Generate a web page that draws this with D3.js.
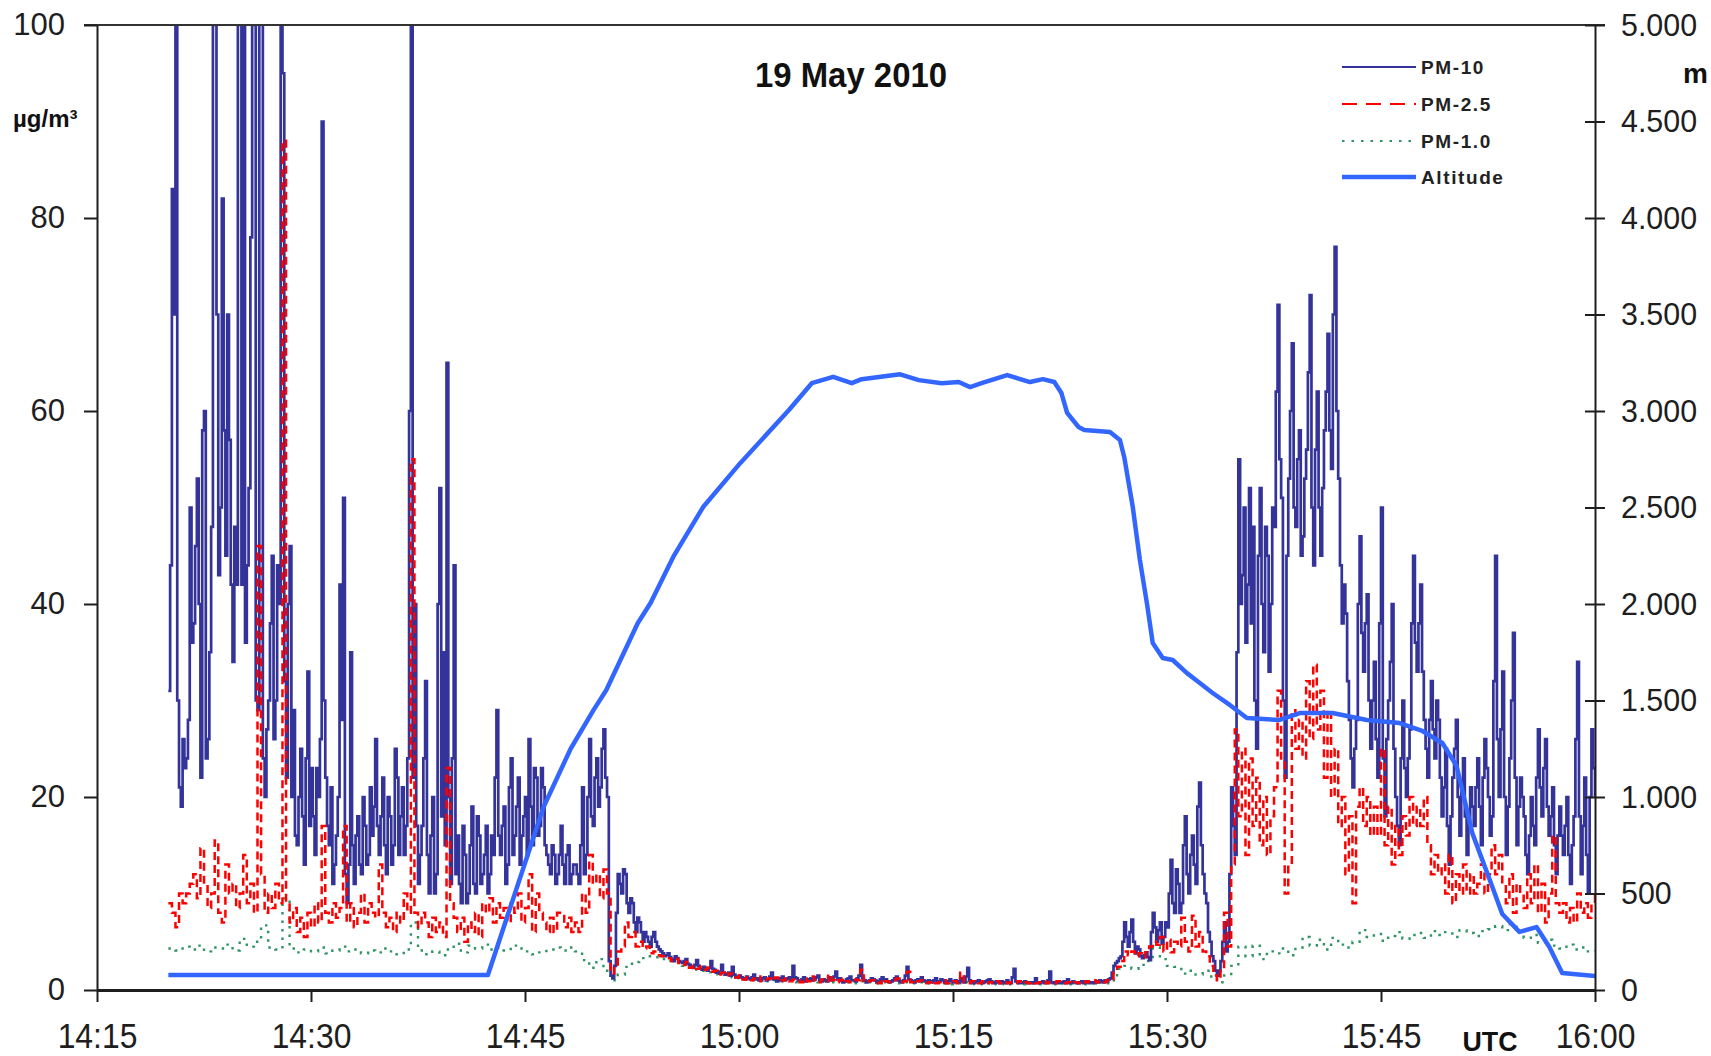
<!DOCTYPE html>
<html>
<head>
<meta charset="utf-8">
<script src="https://cdn.jsdelivr.net/npm/d3@7"></script>
<style>
  html, body { margin: 0; padding: 0; background: #fff; }
  svg { display: block; font-family: "Liberation Sans", Arial, sans-serif; }
</style>
</head>
<body>
<svg id="chart" width="1711" height="1056"></svg>
<script>
// ---- Chart data ------------------------------------------------------------
const chartTitle = "19 May 2010";
const seriesNames = ["PM-10", "PM-2.5", "PM-1.0", "Altitude"];

// x axis: minutes after 14:15 UTC
const xTickMinutes = [0, 15, 30, 45, 60, 75, 90, 105];
const xTickLabels = ["14:15", "14:30", "14:45", "15:00", "15:15", "15:30", "15:45", "16:00"];
const leftTicks = [0, 20, 40, 60, 80, 100];
const rightTicks = [0, 500, 1000, 1500, 2000, 2500, 3000, 3500, 4000, 4500, 5000];

// all particle channels start at 14:20
const pmStartMinute = 5;

// PM-10: one sample every 7.5 s
const pm10StepMinutes = 0.125;
const pm10 = [
  31, 44, 83, 70, 120, 30, 21, 19, 26, 23, 24, 28, 50, 36, 38, 46, 53, 40, 22, 58, 60, 24, 26, 35, 48, 100, 130, 70, 43, 50, 82, 58, 45, 70, 57, 42, 34, 48, 42, 100,
  115, 42, 105, 36, 44, 52, 78, 100, 130, 30, 29, 110, 140, 24, 20, 27, 30, 38, 45, 26, 30, 44, 40, 100, 95, 32, 22, 40, 46, 20, 29, 16, 15, 20, 25, 18, 13, 24, 33, 17,
  23, 18, 14, 23, 20, 26, 90, 30, 22, 17, 15, 21, 11, 13, 16, 20, 42, 28, 51, 12, 9, 13, 35, 15, 11, 16, 18, 13, 12, 20, 17, 13, 14, 21, 16, 19, 26, 17, 14, 18,
  22, 15, 12, 20, 18, 13, 15, 25, 22, 14, 18, 21, 14, 17, 24, 60, 110, 22, 40, 17, 11, 14, 17, 24, 32, 14, 10, 16, 20, 10, 12, 40, 52, 18, 35, 15, 65, 20, 11, 24,
  44, 12, 16, 11, 9, 17, 14, 9, 10, 15, 19, 11, 10, 18, 16, 11, 12, 14, 17, 10, 12, 16, 14, 22, 29, 16, 14, 17, 19, 11, 13, 21, 24, 14, 16, 19, 22, 13, 16, 18,
  20, 14, 26, 19, 15, 23, 22, 16, 17, 23, 21, 15, 14, 13, 12, 15, 14, 11, 12, 14, 17, 13, 11, 14, 15, 11, 12, 13, 13, 12, 11, 15, 21, 12, 14, 20, 26, 18, 17, 22,
  24, 19, 21, 25, 27, 22, 20, 3, 1.5, 1.2, 2.5, 8, 12, 11, 10, 12.5, 12, 9, 8, 9.5, 9, 7, 6, 7.5, 7, 6, 5, 6, 5.5, 5, 4.5, 5.5, 6, 5, 4.5, 4.2, 4, 3.8, 3.5, 3.6,
  3.8, 3.4, 3.2, 3.0, 3.5, 3.3, 3, 2.9, 2.8, 3.0, 3.2, 2.7, 2.6, 2.4, 2.3, 2.6, 3.1, 2.5, 2.2, 2.1, 2.4, 2.2, 2.0, 2.3, 3.0, 2.2, 2.1, 1.8, 1.9, 1.7, 2.6, 1.8, 1.6, 1.7, 1.8, 1.5, 2.4, 1.6, 1.3, 1.4,
  1.5, 1.3, 1.2, 1.1, 1.4, 1.2, 1.1, 1.3, 1.6, 1.1, 1.2, 1.0, 1.0, 1.2, 1.3, 1.0, 1.1, 1.4, 1.8, 1.1, 1.2, 0.9, 1.0, 1.2, 1.4, 1.0, 1.1, 1.2, 1.3, 1.1, 2.5, 1.3, 1.2, 1.0, 0.9, 1.1, 1.3, 0.9, 1.0, 1.1,
  1.2, 1.0, 1.1, 1.3, 1.5, 1.0, 0.9, 1.1, 1.0, 0.9, 1.3, 1.0, 1.1, 1.4, 1.9, 1.1, 1.2, 1.0, 0.8, 0.9, 1.1, 1.2, 1.4, 1.0, 1.0, 0.9, 1.2, 1.5, 2.6, 1.2, 1.0, 0.8, 0.9, 1.0, 1.2, 1.1, 1.0, 0.8, 0.9, 1.1,
  1.3, 1.0, 1.1, 0.9, 0.8, 0.9, 1.0, 1.2, 1.4, 1.0, 0.9, 0.8, 1.0, 1.5, 2.4, 1.1, 1.0, 0.9, 0.8, 1.0, 1.1, 0.9, 1.3, 1.0, 0.9, 0.8, 1.0, 0.9, 0.8, 1.0, 1.2, 0.8, 0.9, 1.1, 1.0, 0.8, 0.7, 0.9, 1.1, 0.9,
  0.8, 1.0, 0.9, 0.8, 1.2, 0.9, 0.8, 1.4, 2.3, 1.0, 0.9, 0.7, 0.8, 0.9, 1.0, 0.8, 0.7, 0.8, 0.9, 1.0, 1.1, 0.9, 0.8, 0.7, 0.9, 0.8, 0.7, 0.9, 0.8, 0.7, 1.0, 0.8, 0.7, 1.3, 2.2, 0.9, 0.8, 0.7, 0.7, 0.8,
  0.9, 0.8, 0.7, 0.8, 0.8, 0.7, 1.2, 0.8, 0.7, 0.8, 0.9, 0.7, 0.8, 1.0, 1.9, 0.8, 0.7, 0.8, 0.8, 0.7, 0.7, 0.8, 0.9, 0.7, 1.1, 0.8, 0.7, 0.9, 0.8, 0.7, 0.7, 0.8, 0.9, 0.7, 0.8, 0.9, 0.7, 0.8, 0.8, 0.7,
  0.9, 0.8, 1.0, 0.9, 0.8, 1.0, 0.9, 1.1, 1.2, 1.8, 2.5, 2.8, 3.0, 3.3, 3.5, 5, 7, 5.5, 4.5, 6, 7.3, 5, 3.8, 4.5, 4.2, 3.5, 3.3, 3.6, 3.9, 3.4, 3.1, 6, 8, 6.5, 5, 6.2, 7, 4.8, 5.5, 7,
  6.5, 10, 13.5, 9, 8, 12.5, 11, 8, 9, 15, 18, 12, 10, 14, 16, 13, 11, 19, 21.5, 15, 12, 10, 9, 6, 5, 3.5, 3, 2, 1.5, 2, 3, 5, 7, 4, 5, 12, 21, 17, 14, 35,
  55, 40, 43, 50, 36, 42, 52, 38, 48, 30, 25, 45, 52, 40, 35, 48, 45, 33, 40, 50, 48, 62, 71, 55, 51, 30, 22, 45, 53, 60, 67, 50, 48, 55, 58, 45, 47, 53, 56, 64,
  72, 50, 44, 56, 62, 50, 45, 52, 58, 62, 68, 58, 54, 70, 77, 60, 53, 44, 38, 42, 39, 32, 28, 24, 21, 25, 28, 40, 47, 37, 33, 38, 41, 30, 25, 30, 34, 26, 22, 38,
  50, 24, 18, 26, 30, 34, 40, 25, 20, 17, 15, 24, 30, 23, 20, 24, 27, 38, 45, 36, 33, 38, 42, 33, 28, 25, 22, 28, 32, 27, 24, 30, 28, 22, 18, 21, 25, 17, 13, 18,
  22, 25, 28, 20, 16, 21, 24, 18, 14, 17, 21, 19, 17, 21, 24, 19, 15, 22, 26, 23, 20, 16, 18, 32, 45, 26, 20, 27, 33, 20, 14, 19, 24, 30, 37, 22, 15, 19, 22, 20,
  18, 14, 12, 16, 20, 17, 15, 22, 27, 21, 18, 23, 26, 19, 16, 18, 21, 15, 12, 16, 19, 16, 14, 17, 20, 14, 11, 15, 18, 26, 34, 18, 12, 17, 22, 14, 10, 20, 27, 23, 20
];

// PM-2.5: one sample every 15 s
const pm25StepMinutes = 0.25;
const pm25 = [
  9, 8, 6.5, 10, 9, 10, 11, 12, 9.5, 14.7, 11, 8.5, 10, 15.5, 8, 7, 13, 10, 11, 8.5,
  10, 14, 9, 11, 8, 46, 12, 8, 10, 8.5, 11, 9, 88, 9, 7, 8.5, 6, 7.5, 5.5, 8,
  6.5, 9, 7, 17, 8, 7, 9, 7.5, 8.5, 17, 7, 9, 6.5, 8, 10, 7, 9, 8, 7.5, 13,
  8, 6.5, 7.5, 6, 8, 7, 10, 8, 55, 8, 6.5, 8, 7, 5.5, 7.5, 6, 7, 5.5, 23, 9,
  7.5, 6, 7.5, 5, 7, 6, 8, 5.5, 9, 8, 9.5, 7, 9, 7.5, 8.5, 7, 9, 8, 10, 7,
  8.5, 12, 6, 10, 8, 7, 6, 7.5, 6, 8, 8, 6.5, 7.5, 6, 7, 6, 10, 8, 14, 11,
  12, 9.5, 12.5, 10, 1.7, 2.5, 4, 4.5, 7, 5.5, 6, 4.5, 5, 4.3, 4.5, 3.8, 4, 3.6, 3.5, 3.4,
  3.3, 3.0, 3.2, 2.8, 2.6, 2.9, 2.3, 2.5, 2.2, 2.4, 2.1, 2.3, 1.9, 2.0, 1.6, 1.8, 1.5, 1.7, 1.4, 1.3,
  1.5, 1.1, 1.3, 1.0, 1.2, 1.4, 0.9, 1.1, 1.2, 1.0, 1.3, 0.9, 1.0, 1.2, 0.9, 1.1, 1.0, 0.8, 1.2, 0.9,
  1.4, 1.0, 0.8, 1.1, 0.9, 1.6, 1.0, 0.8, 1.0, 1.2, 0.9, 0.8, 1.1, 1.0, 2.1, 0.8, 0.9, 1.0, 0.8, 0.7,
  1.1, 0.9, 0.8, 1.0, 1.2, 0.8, 0.9, 1.9, 0.8, 0.7, 0.9, 1.0, 0.7, 0.8, 0.9, 0.7, 0.8, 1.0, 0.7, 0.8,
  0.9, 0.7, 1.8, 0.8, 0.7, 0.9, 0.8, 0.7, 0.9, 0.7, 0.8, 0.7, 0.9, 0.7, 0.8, 0.7, 0.8, 0.7, 0.9, 0.7,
  0.8, 0.7, 0.8, 0.7, 0.8, 0.9, 0.7, 0.8, 0.7, 0.9, 0.8, 0.7, 0.8, 0.7, 0.8, 0.7, 0.9, 0.8, 0.9, 1.0,
  0.8, 0.9, 0.8, 1.0, 1.1, 1.8, 2.4, 3.0, 4.0, 3.6, 4.0, 3.5, 3.8, 3.4, 3.9, 4.5, 5.0, 4.7, 5.5, 4.0,
  5.2, 3.9, 5.0, 4.5, 7.5, 5.0, 4.0, 7.7, 4.5, 6.0, 4.0, 3.5, 2.5, 1.5, 1.0, 2.0, 8.0, 4.5, 13, 27,
  18, 25, 14, 24, 17, 22, 15, 20, 14, 18, 21, 31, 24, 10, 13, 29, 25, 28, 24, 32,
  26, 33.7, 27, 31, 22, 29, 20, 25, 17, 20, 12, 18, 9, 19, 21, 17, 20, 16, 19, 16,
  25, 15, 19, 13, 17, 14, 18, 16, 20, 17, 19, 17, 20, 15, 12, 14, 12, 13, 10, 14,
  9, 12, 10, 13, 10, 12, 10, 11, 13, 10, 12, 15, 12, 14, 11, 9, 12, 8, 11, 10,
  8.5, 12, 9, 13, 8, 11, 7, 10, 16, 9, 8, 9, 7, 8.5, 7, 10, 8, 9, 7.5, 9, 10
];

// PM-1.0: one sample every 30 s
const pm1StepMinutes = 0.5;
const pm1 = [
  4.3, 4.1, 4.5, 4.2, 4.6, 4.0, 4.4, 4.3, 4.7, 4.1, 5.3, 4.5, 5.0, 6.7, 4.4, 4.2, 9.5, 4.3, 3.9, 4.2,
  4.0, 4.4, 3.8, 4.1, 4.5, 4.0, 4.2, 3.8, 4.1, 3.9, 4.3, 4.0, 3.7, 4.2, 7.0, 4.1, 3.7, 4.0, 3.6, 4.2,
  4.8, 3.9, 4.6, 4.3, 4.7, 4.2, 4.4, 4.1, 4.6, 4.3, 4.0, 3.7, 3.9, 4.2, 4.4, 4.1, 4.4, 4.0, 3.1, 2.3,
  3.2, 2.0, 1.0, 1.6, 2.4, 2.9, 3.3, 3.5, 3.4, 3.2, 3.0, 2.9, 2.5, 2.3, 2.0, 2.0, 1.7, 1.6, 1.4, 1.3,
  1.2, 1.1, 1.0, 1.1, 0.9, 1.0, 0.9, 1.0, 0.8, 0.9, 1.0, 0.8, 0.9, 0.8, 0.9, 0.8, 0.7, 0.9, 0.8, 0.7,
  0.8, 0.9, 0.7, 0.8, 0.7, 0.8, 0.7, 0.8, 0.7, 0.6, 0.7, 0.8, 0.7, 0.6, 0.7, 0.8, 0.6, 0.7, 0.6, 0.7,
  0.6, 0.7, 0.6, 0.7, 0.6, 0.7, 0.6, 0.7, 0.6, 0.7, 0.8, 0.7, 1.0, 2.2, 2.5, 2.2, 2.6, 3.0, 4.4, 3.2,
  2.5, 2.4, 1.7, 2.0, 1.6, 2.0, 1.4, 0.8, 1.5, 2.5, 4.5, 3.5, 4.6, 3.2, 4.0, 3.8, 4.3, 3.6, 4.4, 5.5,
  4.6, 5.2, 4.2, 5.4, 4.7, 4.4, 5.0, 6.2, 5.5, 5.8, 5.1, 5.6, 6.0, 5.3, 5.7, 5.9, 5.4, 6.1, 5.7, 6.0,
  5.5, 6.2, 5.9, 5.6, 6.1, 6.3, 6.6, 6.2, 6.8, 6.0, 5.4, 5.7, 4.9, 5.2, 4.6, 4.3, 4.7, 4.2, 4.4, 4.0, 4.1
];

// flight altitude (m) against minutes after 14:15
const altitudeMinutes = [
  5.0, 27.4, 31.3, 33.2, 34.8, 35.7, 37.9, 38.8, 40.4, 42.5, 45.1, 48.5, 50.1, 51.6, 52.9,
  53.6, 56.3, 57.6, 59.2, 60.4, 61.2, 62.0, 63.8, 65.4, 66.3, 67.1, 67.6, 68.0, 68.8, 69.2,
  71.0, 71.7, 72.0, 72.6, 73.1, 73.6, 74.0, 74.7, 75.4, 76.4, 77.3, 78.2, 79.4, 80.6, 82.9,
  84.3, 86.6, 89.0, 91.3, 92.9, 94.3, 95.3, 96.4, 97.6, 98.5, 99.7, 100.9, 101.8, 102.7, 105.0
];
const altitudeMetres = [
  78, 78, 948, 1250, 1450, 1554, 1900, 2005, 2245, 2504, 2731, 3005, 3144, 3177, 3144,
  3165, 3190, 3160, 3144, 3150, 3124, 3144, 3186, 3150, 3165, 3150, 3093, 2990, 2917, 2902,
  2891, 2850, 2762, 2503, 2228, 2000, 1798, 1720, 1710, 1642, 1591, 1539, 1477, 1409, 1399,
  1435, 1435, 1399, 1383, 1342, 1280, 1161, 813, 575, 394, 301, 326, 223, 88, 73
];

// ---- Layout ----------------------------------------------------------------
const plot = { left: 97, right: 1595, top: 25, bottom: 990 };
const svg = d3.select("#chart");

const x = d3.scaleLinear().domain([0, 105]).range([plot.left, plot.right]);
const yPM = d3.scaleLinear().domain([0, 100]).range([plot.bottom, plot.top]);
const yAlt = d3.scaleLinear().domain([0, 5000]).range([plot.bottom, plot.top]);

const dotLocale = d3.formatLocale({ decimal: ",", thousands: ".", grouping: [3], currency: ["", ""] });
const altFormat = dotLocale.format(",");

svg.append("defs").append("clipPath").attr("id", "plotClip")
  .append("rect")
  .attr("x", plot.left).attr("y", plot.top)
  .attr("width", plot.right - plot.left).attr("height", plot.bottom - plot.top);

const lines = svg.append("g").attr("clip-path", "url(#plotClip)");

function sampled(values, start, step) {
  return values.map((v, i) => ({ t: start + i * step, v }));
}

const pmLine = d3.line()
  .x(d => x(d.t))
  .y(d => yPM(d.v))
  .curve(d3.curveStepAfter);

lines.append("path")
  .datum(sampled(pm1, pmStartMinute, pm1StepMinutes))
  .attr("d", pmLine)
  .attr("fill", "none")
  .attr("stroke", "#2f9463")
  .attr("stroke-width", 2.4)
  .attr("stroke-dasharray", "2.5,6");

lines.append("path")
  .datum(sampled(pm10, pmStartMinute, pm10StepMinutes))
  .attr("d", pmLine)
  .attr("fill", "none")
  .attr("stroke", "#333399")
  .attr("stroke-width", 2.7);

lines.append("path")
  .datum(sampled(pm25, pmStartMinute, pm25StepMinutes))
  .attr("d", pmLine)
  .attr("fill", "none")
  .attr("stroke", "#ff0000")
  .attr("stroke-width", 2.5)
  .attr("stroke-dasharray", "8,5");

const altLine = d3.line()
  .x((d, i) => x(altitudeMinutes[i]))
  .y(d => yAlt(d));

lines.append("path")
  .datum(altitudeMetres)
  .attr("d", altLine)
  .attr("fill", "none")
  .attr("stroke", "#3366ff")
  .attr("stroke-width", 4.5)
  .attr("stroke-linejoin", "round");

// ---- Axes ------------------------------------------------------------------
const axisColor = "#1e1e1e";
function styleAxis(g, fontSize) {
  g.select(".domain").attr("stroke", axisColor).attr("stroke-width", 2);
  g.selectAll(".tick line").attr("stroke", axisColor).attr("stroke-width", 2);
  g.selectAll(".tick text")
    .attr("fill", "#1e1e1e")
    .style("font-size", fontSize + "px")
    .style("font-family", "'Liberation Sans', Arial, sans-serif");
}
function condense(sel, factor) {
  sel.each(function () {
    const w = this.getComputedTextLength();
    this.setAttribute("textLength", (w * factor).toFixed(1));
    this.setAttribute("lengthAdjust", "spacingAndGlyphs");
  });
}

// plot frame top edge
svg.append("line")
  .attr("x1", plot.left - 13).attr("x2", plot.right + 10)
  .attr("y1", plot.top).attr("y2", plot.top)
  .attr("stroke", "#333").attr("stroke-width", 2);

const gLeft = svg.append("g")
  .attr("transform", `translate(${plot.left},0)`)
  .call(d3.axisLeft(yPM).tickValues(leftTicks).tickSize(13).tickSizeOuter(0).tickPadding(19));
styleAxis(gLeft, 31);

const gRight = svg.append("g")
  .attr("transform", `translate(${plot.right},0)`)
  .call(d3.axisRight(yAlt).tickValues(rightTicks).tickFormat(altFormat)
    .tickSize(10).tickSizeOuter(0).tickPadding(16));
styleAxis(gRight, 32);
gRight.selectAll(".tick line").attr("x1", -10);
condense(gRight.selectAll(".tick text"), 0.95);

const gBottom = svg.append("g")
  .attr("transform", `translate(0,${plot.bottom})`)
  .call(d3.axisBottom(x).tickValues(xTickMinutes).tickFormat((d, i) => xTickLabels[i])
    .tickSize(12).tickSizeOuter(0).tickPadding(21));
styleAxis(gBottom, 35);
gBottom.select(".domain").attr("stroke-width", 3);
condense(gBottom.selectAll(".tick text"), 0.91);

// ---- Titles and units ------------------------------------------------------
svg.append("text")
  .attr("x", 851).attr("y", 87)
  .attr("text-anchor", "middle")
  .attr("font-weight", "bold")
  .attr("font-size", 35)
  .attr("fill", "#111")
  .attr("textLength", 192)
  .attr("lengthAdjust", "spacingAndGlyphs")
  .text(chartTitle);

svg.append("text")
  .attr("x", 13).attr("y", 127)
  .attr("font-weight", "bold").attr("font-size", 24).attr("fill", "#111")
  .text("µg/m³");

svg.append("text")
  .attr("x", 1683).attr("y", 83)
  .attr("font-weight", "bold").attr("font-size", 28).attr("fill", "#111")
  .text("m");

svg.append("text")
  .attr("x", 1490).attr("y", 1051)
  .attr("text-anchor", "middle")
  .attr("font-weight", "bold").attr("font-size", 28).attr("fill", "#111")
  .attr("textLength", 55).attr("lengthAdjust", "spacingAndGlyphs")
  .text("UTC");

// ---- Legend ----------------------------------------------------------------
const legendStyles = [
  { color: "#333399", width: 2, dash: null },
  { color: "#ff0000", width: 2, dash: "15,9" },
  { color: "#2f9463", width: 2, dash: "2.5,7" },
  { color: "#3366ff", width: 4.5, dash: null }
];
const legendRows = [67, 104, 141, 177];
const legend = svg.append("g");
seriesNames.forEach((name, i) => {
  const s = legendStyles[i];
  legend.append("line")
    .attr("x1", 1342).attr("x2", 1416)
    .attr("y1", legendRows[i]).attr("y2", legendRows[i])
    .attr("stroke", s.color).attr("stroke-width", s.width)
    .attr("stroke-dasharray", s.dash);
  legend.append("text")
    .attr("x", 1421).attr("y", legendRows[i] + 7)
    .attr("font-weight", "bold").attr("font-size", 19)
    .attr("letter-spacing", "1.6px")
    .attr("fill", "#222")
    .text(name);
});
</script>
</body>
</html>
